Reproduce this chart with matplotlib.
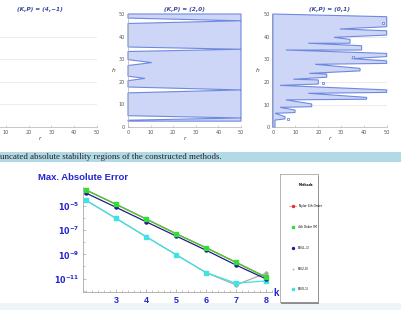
import numpy as np
import matplotlib
matplotlib.use('Agg')
import matplotlib.pyplot as plt
import matplotlib.patches as mpatches
from matplotlib.lines import Line2D
from matplotlib.ticker import MultipleLocator

# ---- data: stability regions ----
# (K,P) = (2,0): filled box with notches entering from the left edge
mid_bottom = 2.6
mid_notch_h = [4.0, 16.4, 21.5, 28.5, 34.4, 47.0]
mid_notch_w = [1.0, 1.3, 1.0, 1.3, 1.0, 1.2]
mid_notch_reach = [50, 50, 7.5, 10.5, 50, 50]

# (K,P) = (0,1): comb shaped region, bands reaching right, wedges between
band_R = [50, 50, 33.9, 39.0, 50, 50, 38.3, 23.7, 20.0, 50, 41.2, 17.1, 9.8, 5.4]
band_top = [48.8, 42.6, 38.8, 36.0, 32.6, 29.3, 26.0, 23.5, 20.9, 16.5, 13.2, 10.3, 7.6, 4.7]
band_bot = [44.4, 40.7, 37.1, 34.1, 31.2, 28.2, 24.9, 22.1, 19.1, 15.4, 12.4, 9.1, 6.5, 3.7]
tip_r = [29.5, 26.9, 15.6, 5.8, 34.6, 18.6, 16.1, 9.1, 3.2, 15.6, 5.8, 3.2, 1.0, 1.0]
tip_h = [43.4, 39.7, 37.1, 34.1, 30.3, 27.8, 23.8, 21.2, 18.5, 15.0, 12.1, 8.8, 6.2, 3.2]
hole_r = [48.5, 35.4, 22.2, 6.9]
hole_h = [46.2, 30.9, 19.7, 3.5]

titles = ['(K,P) = (4,\u22121)', '(K,P) = (2,0)', '(K,P) = (0,1)']
caption = 'uncated absolute stability regions of the constructed methods.'

# ---- data: max absolute error vs k ----
k = [2, 3, 4, 5, 6, 7, 8]
err_taylor = [2.1e-4, 1.38e-5, 8.5e-7, 5.1e-8, 3.5e-9, 2.2e-10, 1.29e-11]
err_im = [2.1e-4, 1.38e-5, 8.5e-7, 5.1e-8, 3.5e-9, 2.2e-10, 1.29e-11]
err_er41 = [1.17e-4, 7.8e-6, 5.0e-7, 3.3e-8, 2.2e-9, 1.3e-10, 9.3e-12]
err_er20 = [2.95e-5, 9.5e-7, 2.9e-8, 9.5e-10, 3.1e-11, 2.95e-12, 2.75e-11]
err_er01 = [2.95e-5, 9.5e-7, 2.9e-8, 9.5e-10, 3.1e-11, 4.1e-12, 6.3e-12]
method_names = ['Taylor 4th Order', '4th Order IM', 'ER(4,-1)', 'ER(2,0)', 'ER(0,1)']

W, H = 402, 310
fig = plt.figure(figsize=(W / 100, H / 100), dpi=100)


def box(x0, y0, x1, y1):
    return [x0 / W, 1 - y1 / H, (x1 - x0) / W, (y1 - y0) / H]


fill_c = '#cdd6f6'
edge_c = '#6e89df'


def style_top(ax, title, show_y=True):
    ax.set_xlim(0, 50)
    ax.set_ylim(0, 50)
    for s in ['top', 'right']:
        ax.spines[s].set_visible(False)
    for s in ['left', 'bottom']:
        ax.spines[s].set_color('#b0b0b0')
        ax.spines[s].set_linewidth(0.5)
    ax.set_xticks(range(0, 51, 10) if show_y else range(10, 51, 10))
    ax.set_yticks(range(0, 51, 10))
    ax.tick_params(labelsize=3.5, colors='#b0b0b0', labelcolor='#555555',
                   length=1.5, width=0.4, direction='in', pad=2)
    for yy in range(10, 50, 10):
        ax.axhline(yy, color='#e4e4e4', lw=0.5, zorder=0)
    ax.set_facecolor('none')
    ax.set_title(title, fontsize=4.2, style='italic', weight='bold',
                 color='#3a4aa0', pad=2.5)
    ax.set_xlabel('r', fontsize=4.2, style='italic', color='#444', labelpad=1)
    if show_y:
        ax.set_ylabel('h', fontsize=4.2, style='italic', color='#444',
                      rotation=0, labelpad=4, va='center')
    else:
        ax.tick_params(axis='y', labelleft=False)


ax_l = fig.add_axes(box(-17, 14, 97, 127))
ax_m = fig.add_axes(box(128, 14, 241, 127))
ax_r = fig.add_axes(box(272.7, 14, 386.7, 127.3))
style_top(ax_l, titles[0], show_y=False)
style_top(ax_m, titles[1])
style_top(ax_r, titles[2])

# middle region polygon
pts = [(0, 50), (50, 50), (50, mid_bottom), (0, mid_bottom)]
for h, w, reach in zip(mid_notch_h, mid_notch_w, mid_notch_reach):
    pts += [(0, h - w), (reach, h), (0, h + w)]
ax_m.add_patch(mpatches.Polygon(pts, closed=True, fc=fill_c, ec=edge_c,
                                lw=0.8, clip_on=False, zorder=2))

# right region polygon
pts = [(0, 50)]
for R, top, bot, tr, th in zip(band_R, band_top, band_bot, tip_r, tip_h):
    pts += [(R, top), (R, bot), (tr, th)]
pts += [(tip_r[-1], 0), (0, 0)]
ax_r.add_patch(mpatches.Polygon(pts, closed=True, fc=fill_c, ec=edge_c,
                                lw=0.8, clip_on=False, zorder=2))
ax_r.scatter(hole_r, hole_h, marker='s', s=4, fc='white', ec=edge_c,
             lw=0.6, zorder=3, clip_on=False)

# caption band
fig.patches.append(mpatches.Rectangle((0, 1 - 161.5 / H), 1, 9.5 / H,
                                      transform=fig.transFigure,
                                      fc='#b2d9e6', ec='none', zorder=-1))
fig.text(0.5 / W, 1 - 156.8 / H, caption, family='Liberation Serif',
         fontsize=6.4, color='#222222', va='center', ha='left')
fig.patches.append(mpatches.Rectangle((0, 0), 1, 7 / H,
                                      transform=fig.transFigure,
                                      fc='#eef5f8', ec='none', zorder=-1))

# ---- error chart ----
blue_txt = '#2424d0'
ax_b = fig.add_axes(box(83, 187, 272, 292.3))
ax_b.set_yscale('log')
ax_b.set_xlim(1.9, 8.2)
ax_b.set_ylim(10 ** -12.14, 10 ** -3.43)
ax_b.plot(k, err_taylor, '-o', color='#e8282a', lw=0.9, ms=2.2)
ax_b.plot(k, err_er20, '-D', color='#a8a8a8', lw=0.9, ms=1.8)
ax_b.plot(k, err_er01, '-s', color='#3fe3e3', lw=0.9, ms=2.2)
ax_b.plot(k, err_er41, '-o', color='#1c1c8c', lw=0.9, ms=2.2)
ax_b.plot(k, err_im, '-s', color='#33dd33', lw=0.9, ms=2.4)
for s in ['top', 'right']:
    ax_b.spines[s].set_visible(False)
for s in ['left', 'bottom']:
    ax_b.spines[s].set_color('#a8a8a8')
    ax_b.spines[s].set_linewidth(0.6)
ax_b.set_xticks([3, 4, 5, 6, 7, 8])
ax_b.xaxis.set_minor_locator(MultipleLocator(0.2))
yt = [1e-11, 1e-9, 1e-7, 1e-5]
ax_b.set_yticks(yt)
ax_b.set_yticklabels([r'$\mathbf{10^{%d}}$' % int(np.log10(v)) for v in yt])
ax_b.set_yticks([1e-12, 1e-10, 1e-8, 1e-6, 1e-4], minor=True)
ax_b.set_yticklabels([], minor=True)
ax_b.tick_params(which='both', direction='in', colors='#a8a8a8',
                 labelcolor=blue_txt, width=0.5)
ax_b.tick_params(axis='x', labelsize=6.5)
ax_b.tick_params(axis='y', labelsize=5.8)
ax_b.tick_params(which='major', length=2.5, pad=2.5)
ax_b.tick_params(which='minor', length=1.2)
for lab in ax_b.get_xticklabels():
    lab.set_fontweight('bold')
    lab.set_family('Liberation Sans')
fig.text(276 / W, 1 - 292.5 / H, 'k', fontsize=7, weight='bold',
         color=blue_txt, ha='center', va='center', family='Liberation Sans')
fig.text(38 / W, 1 - 178 / H, 'Max. Absolute Error', fontsize=6.8,
         weight='bold', color=blue_txt, ha='left', va='center',
         family='Liberation Sans')

# legend box with shadow
fig.patches.append(mpatches.Rectangle((281.5 / W, 1 - 303.5 / H), 38 / W, 128 / H,
                                      transform=fig.transFigure,
                                      fc='#8c8c8c', ec='none', zorder=-1))
lax = fig.add_axes(box(280, 174, 318, 302))
lax.set_xticks([])
lax.set_yticks([])
lax.set_facecolor('white')
for s in lax.spines.values():
    s.set_color('#999999')
    s.set_linewidth(0.5)
handles = [
    Line2D([], [], color='#f09090', lw=0.6, marker='o', ms=1.4, mfc='#e8282a', mec='#e8282a'),
    Line2D([], [], color='#33dd33', lw=0, marker='s', ms=1.8),
    Line2D([], [], color='#1c1c8c', lw=0, marker='o', ms=1.4),
    Line2D([], [], color='#a8a8a8', lw=0, marker='+', ms=2, mew=0.5),
    Line2D([], [], color='#3fe3e3', lw=0, marker='s', ms=1.8),
]
leg = lax.legend(handles, method_names, loc='upper left', bbox_to_anchor=(0.0, 1.0),
                 frameon=False, fontsize=2.2, title='Methods',
                 title_fontproperties={'weight': 'bold', 'size': 2.2},
                 labelspacing=5.5, handlelength=2.2, handletextpad=0.6,
                 borderpad=3.1, borderaxespad=0)

fig.savefig('out.png', dpi=100)
